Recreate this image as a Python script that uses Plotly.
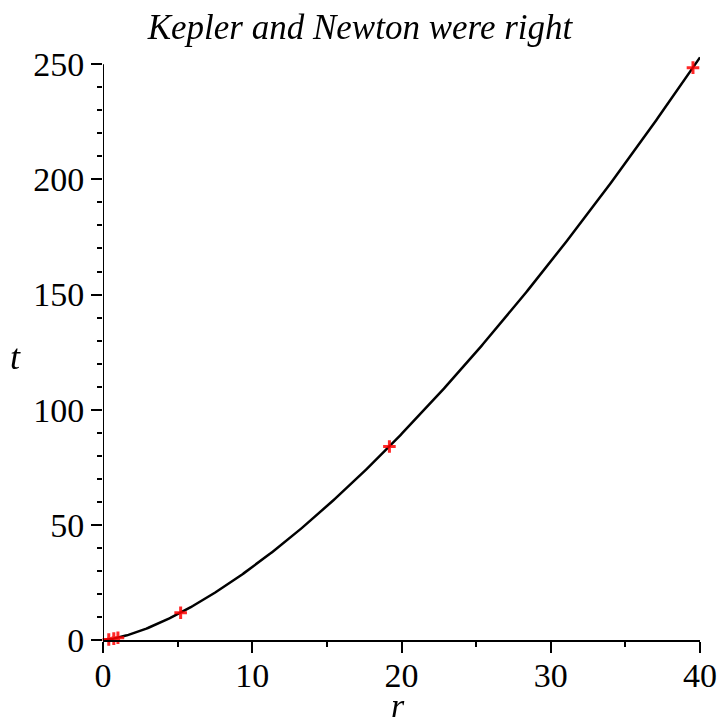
import numpy as np
import plotly.graph_objects as go

# Data: semi-major axis r (AU) and orbital period t (years)
planet_r = [0.387, 0.723, 1.0, 5.203, 19.19, 39.53]
planet_t = [0.241, 0.615, 1.0, 11.86, 84.01, 248.5]

# Model curve t = r^(3/2)
curve_r = np.linspace(0, 40, 400)
curve_t = curve_r ** 1.5

x_ticks = [0, 10, 20, 30, 40]
y_ticks = [0, 50, 100, 150, 200, 250]

W, H = 720, 728
fig = go.Figure()
fig.add_trace(go.Scatter(x=curve_r, y=curve_t, mode="lines",
                         line=dict(color="black", width=2.5), hoverinfo="skip"))
fig.add_trace(go.Scatter(x=planet_r, y=planet_t, mode="markers",
                         marker=dict(symbol="cross-thin", size=9, color="red",
                                     line=dict(color="red", width=3)),
                         opacity=0.85, cliponaxis=False))

font = "Liberation Serif"
YMAX = 254
left, right = 103, 700
y0px, y250px = 640, 64
scale = (y0px - y250px) / 250.0
top_px = y0px - YMAX * scale

fig.update_layout(
    width=W, height=H,
    paper_bgcolor="white", plot_bgcolor="white",
    showlegend=False,
    margin=dict(l=left, r=W - right, t=top_px, b=H - y0px, pad=0,
                autoexpand=False),
    font=dict(family=font, color="black"),
    title=dict(text="<i>Kepler and Newton were right</i>",
               x=360 / W, xref="container",
               y=1 - 27 / H, yref="container", yanchor="middle", xanchor="center",
               font=dict(family=font, size=35, color="black")),
)
fig.update_xaxes(range=[0, 40], tickvals=x_ticks, ticks="outside", ticklen=11,
                 tickwidth=2, tickcolor="black", showline=True, linecolor="black",
                 linewidth=2, showgrid=False, zeroline=False, automargin=False,
                 ticklabelstandoff=-7,
                 tickfont=dict(family=font, size=34, color="black"),
                 minor=dict(dtick=5, ticks="outside", ticklen=5, tickwidth=2,
                            tickcolor="black", showgrid=False))
fig.update_yaxes(range=[0, YMAX], tickvals=y_ticks, ticks="outside", ticklen=11,
                 tickwidth=2, tickcolor="black", showline=False,
                 showgrid=False, zeroline=False, automargin=False,
                 tickfont=dict(family=font, size=34, color="black"),
                 minor=dict(dtick=10, ticks="outside", ticklen=5, tickwidth=2,
                            tickcolor="black", showgrid=False))
# y axis line ending at 250
fig.add_shape(type="line", xref="x", yref="y", x0=0, x1=0, y0=0, y1=250,
              line=dict(color="black", width=2))
fig.add_annotation(text="<i>t</i>", xref="paper", yref="paper",
                   x=(15 - left) / (right - left),
                   y=(y0px - 357) / (y0px - top_px),
                   xanchor="center", yanchor="middle",
                   showarrow=False, font=dict(family=font, size=36, color="black"))
fig.add_annotation(text="<i>r</i>", xref="paper", yref="paper",
                   x=(398 - left) / (right - left),
                   y=(y0px - 706) / (y0px - top_px),
                   xanchor="center", yanchor="middle",
                   showarrow=False, font=dict(family=font, size=34, color="black"))

fig.write_html("out.html", config={"displayModeBar": False},
               post_script="document.body.style.margin='0';document.body.style.overflow='hidden';")
